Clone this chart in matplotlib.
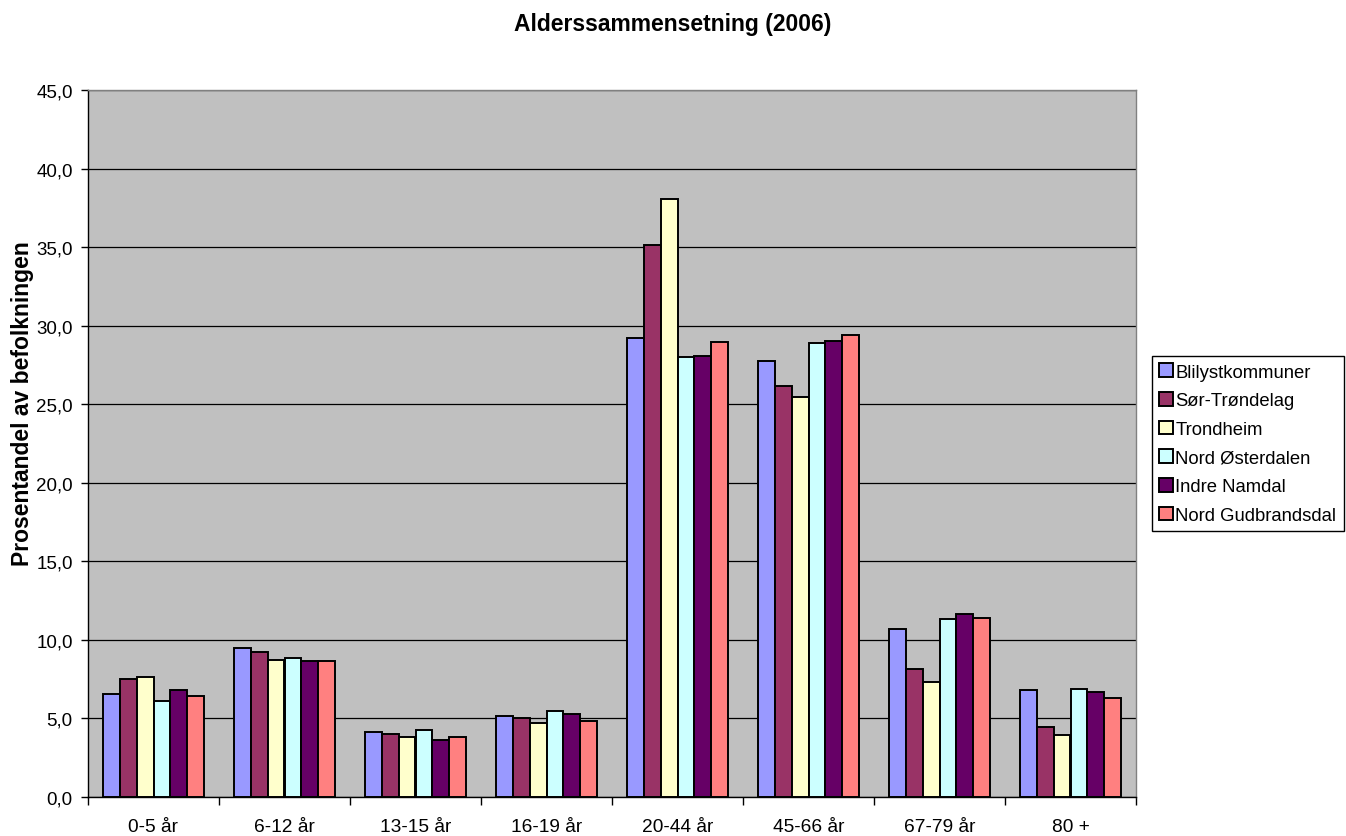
import matplotlib.pyplot as plt
import numpy as np

plt.rcParams['font.family'] = ['Liberation Sans', 'DejaVu Sans']

groups = ['0-5 år', '6-12 år', '13-15 år', '16-19 år', '20-44 år', '45-66 år', '67-79 år', '80 +']
series = ['Blilystkommuner', 'Sør-Trøndelag', 'Trondheim', 'Nord Østerdalen', 'Indre Namdal', 'Nord Gudbrandsdal']
colors = ['#9999FF', '#993366', '#FFFFCC', '#CCFFFF', '#660066', '#FF8080']

blilyst = [6.56, 9.46, 4.13, 5.14, 29.19, 27.75, 10.71, 6.79]
sor_trondelag = [7.51, 9.25, 4.02, 5.02, 35.13, 26.18, 8.15, 4.46]
trondheim = [7.66, 8.74, 3.81, 4.72, 38.05, 25.46, 7.32, 3.92]
nord_osterdalen = [6.10, 8.85, 4.27, 5.48, 27.98, 28.87, 11.30, 6.88]
indre_namdal = [6.81, 8.66, 3.62, 5.31, 28.06, 29.00, 11.66, 6.69]
nord_gudbrandsdal = [6.43, 8.68, 3.81, 4.83, 28.95, 29.40, 11.39, 6.27]
values = [blilyst, sor_trondelag, trondheim, nord_osterdalen, indre_namdal, nord_gudbrandsdal]

fig = plt.figure(figsize=(13.46, 8.37), dpi=100)
ax = fig.add_axes([88/1346, 1 - 798/837, (1136-88)/1346, (798-91)/837])
ax.set_facecolor('#C0C0C0')

x = np.arange(len(groups))
w = 0.776 / len(series)
for i, (name, vals) in enumerate(zip(series, values)):
    off = (i - (len(series) - 1) / 2) * w
    ax.bar(x + off, vals, width=w, color=colors[i], edgecolor='black',
           linewidth=1.4, label=name, zorder=3)

ax.set_xlim(-0.5, len(groups) - 0.5)
ax.set_ylim(0, 45)
ax.set_yticks(np.arange(0, 46, 5))
ax.set_yticklabels(['{:.1f}'.format(v).replace('.', ',') for v in np.arange(0, 46, 5)])
ax.yaxis.grid(True, color='black', linewidth=0.9, zorder=0)
ax.set_axisbelow(True)

ax.set_xticks(x)
ax.set_xticklabels(groups)
ax.set_xticks(np.arange(-0.5, len(groups)), minor=True)
ax.tick_params(axis='x', which='major', length=0, labelsize=13.8, pad=15)
ax.tick_params(axis='x', which='minor', length=6, width=1)
ax.tick_params(axis='y', length=5, width=1, labelsize=13.5, pad=6)

for s in ['left', 'bottom']:
    ax.spines[s].set_linewidth(1)
    ax.spines[s].set_color('black')
for s in ['top', 'right']:
    ax.spines[s].set_color('#808080')
    ax.spines[s].set_linewidth(1)

ax.set_ylabel('Prosentandel av befolkningen', fontsize=16.5, fontweight='bold')
ax.yaxis.set_label_coords(-0.052, 0.558)
fig.suptitle('Alderssammensetning (2006)', fontsize=16.5, fontweight='bold', y=1 - 25/837, va='center')

leg = fig.legend(loc='upper left', bbox_to_anchor=(1152/1346, 1 - 357/837), fontsize=13.3,
                 frameon=True, fancybox=False, edgecolor='black', framealpha=1,
                 handlelength=0.75, handleheight=0.75, handletextpad=0.12,
                 labelspacing=0.62, borderpad=0.4, borderaxespad=0)
leg.get_frame().set_linewidth(1)

plt.savefig('out.png', dpi=100)
